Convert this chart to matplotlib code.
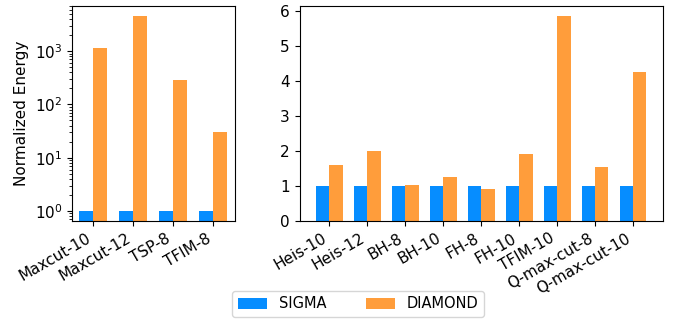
import numpy as np
import matplotlib
matplotlib.use("Agg")
import matplotlib.pyplot as plt

plt.rcParams["font.size"] = 11

# Log-scale benchmarks
left_cats = ["Maxcut-10", "Maxcut-12", "TSP-8", "TFIM-8"]
left_sigma = [1.0, 1.0, 1.0, 1.0]
left_diamond = [1130, 4550, 288, 30]

# Linear-scale benchmarks
right_cats = ["Heis-10", "Heis-12", "BH-8", "BH-10", "FH-8", "FH-10",
              "TFIM-10", "Q-max-cut-8", "Q-max-cut-10"]
right_sigma = [1.0] * 9
right_diamond = [1.60, 2.00, 1.03, 1.26, 0.91, 1.91, 5.86, 1.54, 4.26]

series_names = ["SIGMA", "DIAMOND"]
c_sigma = "#068dff"
c_diamond = "#ff9d3b"
w = 0.35

fig = plt.figure(figsize=(6.77, 3.25), dpi=100)
ax1 = fig.add_axes([72 / 677, 1 - 221 / 325, 162.5 / 677, 215 / 325])
ax2 = fig.add_axes([299.5 / 677, 1 - 221 / 325, 363.5 / 677, 215 / 325])

x1 = np.arange(len(left_cats))
ax1.bar(x1 - w / 2, left_sigma, w, color=c_sigma, label=series_names[0])
ax1.bar(x1 + w / 2, left_diamond, w, color=c_diamond, label=series_names[1])
ax1.set_yscale("log")
ax1.set_ylim(0.65, 7000)
ax1.set_xticks(x1)
ax1.set_xticklabels(left_cats, rotation=30, ha="right")
ax1.set_ylabel("Normalized Energy")

x2 = np.arange(len(right_cats))
ax2.bar(x2 - w / 2, right_sigma, w, color=c_sigma)
ax2.bar(x2 + w / 2, right_diamond, w, color=c_diamond)
ax2.set_ylim(0, 6.15)
ax2.set_xticks(x2)
ax2.set_xticklabels(right_cats, rotation=30, ha="right")

handles, labels = ax1.get_legend_handles_labels()
fig.legend(handles, labels, loc="center", ncol=2, fontsize=10.5,
           bbox_to_anchor=(358 / 677, 1 - 304 / 325), columnspacing=2.7)

fig.savefig("out.png", dpi=100)
